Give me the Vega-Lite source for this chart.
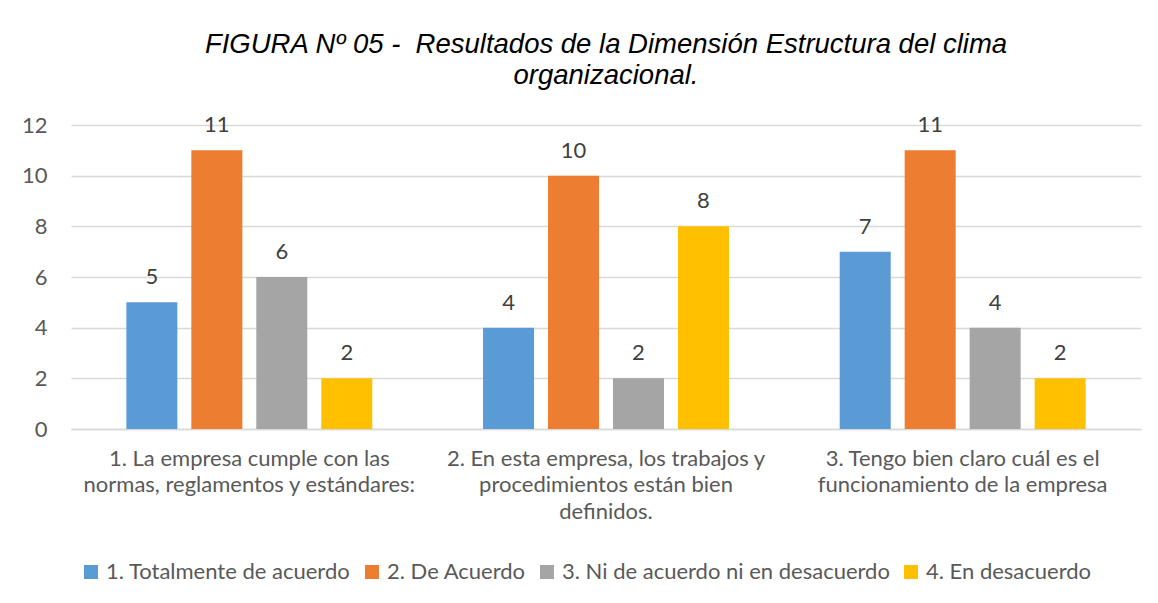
{
  "$schema": "https://vega.github.io/schema/vega-lite/v6.json",
  "width": 1070,
  "height": 304,
  "autosize": {"type": "none"},
  "padding": {"left": 71, "top": 125, "right": 17, "bottom": 174},
  "background": "white",
  "title": {
    "text": ["FIGURA Nº 05 -\u00a0 Resultados de la Dimensión Estructura del clima", "organizacional."],
    "font": "Liberation Sans",
    "fontStyle": "italic",
    "fontWeight": "normal",
    "fontSize": 27.5,
    "color": "#000000",
    "lineHeight": 31,
    "anchor": "middle",
    "frame": "group",
    "offset": 25
  },
  "data": {
    "values": [
      {"pregunta": "1. La empresa cumple con las\nnormas, reglamentos y estándares:", "respuesta": "1. Totalmente de acuerdo", "n": 5},
      {"pregunta": "1. La empresa cumple con las\nnormas, reglamentos y estándares:", "respuesta": "2. De Acuerdo", "n": 11},
      {"pregunta": "1. La empresa cumple con las\nnormas, reglamentos y estándares:", "respuesta": "3. Ni de acuerdo ni en desacuerdo", "n": 6},
      {"pregunta": "1. La empresa cumple con las\nnormas, reglamentos y estándares:", "respuesta": "4. En desacuerdo", "n": 2},
      {"pregunta": "2. En esta empresa, los trabajos y\nprocedimientos están bien\ndefinidos.", "respuesta": "1. Totalmente de acuerdo", "n": 4},
      {"pregunta": "2. En esta empresa, los trabajos y\nprocedimientos están bien\ndefinidos.", "respuesta": "2. De Acuerdo", "n": 10},
      {"pregunta": "2. En esta empresa, los trabajos y\nprocedimientos están bien\ndefinidos.", "respuesta": "3. Ni de acuerdo ni en desacuerdo", "n": 2},
      {"pregunta": "2. En esta empresa, los trabajos y\nprocedimientos están bien\ndefinidos.", "respuesta": "4. En desacuerdo", "n": 8},
      {"pregunta": "3. Tengo bien claro cuál es el\nfuncionamiento de la empresa", "respuesta": "1. Totalmente de acuerdo", "n": 7},
      {"pregunta": "3. Tengo bien claro cuál es el\nfuncionamiento de la empresa", "respuesta": "2. De Acuerdo", "n": 11},
      {"pregunta": "3. Tengo bien claro cuál es el\nfuncionamiento de la empresa", "respuesta": "3. Ni de acuerdo ni en desacuerdo", "n": 4},
      {"pregunta": "3. Tengo bien claro cuál es el\nfuncionamiento de la empresa", "respuesta": "4. En desacuerdo", "n": 2}
    ]
  },
  "encoding": {
    "x": {
      "field": "pregunta",
      "type": "nominal",
      "sort": null,
      "scale": {"paddingInner": 0, "paddingOuter": 0},
      "axis": {
        "title": null,
        "labelAngle": 0,
        "labelExpr": "split(datum.label, '\\n')",
        "labelFont": "Lato",
        "labelFontSize": 22,
        "labelColor": "#595959",
        "labelLineHeight": 26.7,
        "labelPadding": 19,
        "labelLimit": 0,
        "ticks": false,
        "domain": true,
        "domainColor": "#D9D9D9",
        "domainWidth": 1.3
      }
    },
    "xOffset": {
      "field": "respuesta",
      "type": "nominal",
      "scale": {"paddingInner": 0.215, "paddingOuter": 0.852}
    },
    "y": {
      "field": "n",
      "type": "quantitative",
      "scale": {"domain": [0, 12]},
      "axis": {
        "title": null,
        "values": [0, 2, 4, 6, 8, 10, 12],
        "labelFont": "Lato",
        "labelFontSize": 22,
        "labelColor": "#595959",
        "labelPadding": 24,
        "ticks": false,
        "domain": false,
        "grid": true,
        "gridColor": "#D9D9D9",
        "gridWidth": 1.3
      }
    }
  },
  "layer": [
    {
      "mark": {"type": "bar"},
      "encoding": {
        "color": {
          "field": "respuesta",
          "type": "nominal",
          "scale": {
            "domain": ["1. Totalmente de acuerdo", "2. De Acuerdo", "3. Ni de acuerdo ni en desacuerdo", "4. En desacuerdo"],
            "range": ["#5B9BD5", "#ED7D31", "#A5A5A5", "#FFC000"]
          },
          "legend": {
            "title": null,
            "orient": "none",
            "direction": "horizontal",
            "legendX": 9,
            "legendY": 436,
            "padding": 0,
            "symbolType": "square",
            "symbolSize": 196,
            "symbolStrokeWidth": 0,
            "labelFont": "Lato",
            "labelFontSize": 22,
            "labelColor": "#595959",
            "labelOffset": 4,
            "columnPadding": 10,
            "labelLimit": 0
          }
        }
      }
    },
    {
      "mark": {"type": "text", "baseline": "alphabetic", "dy": -18, "font": "Lato", "fontSize": 22, "color": "#404040"},
      "encoding": {
        "text": {"field": "n", "type": "quantitative"}
      }
    }
  ],
  "config": {
    "view": {"stroke": null}
  }
}
